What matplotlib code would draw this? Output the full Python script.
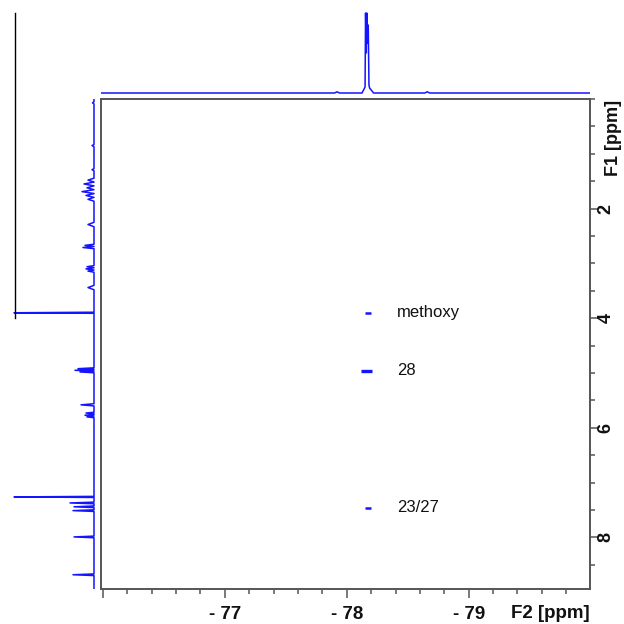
import matplotlib
matplotlib.use('Agg')
import matplotlib.pyplot as plt
from matplotlib.lines import Line2D
from matplotlib.ticker import MultipleLocator, FixedLocator

# ---------------- data ----------------
f2_major_ticks = [-76, -77, -78, -79]
f2_tick_labels = ['', '- 77', '- 78', '- 79']
f1_major_ticks = [2, 4, 6, 8]
f1_tick_labels = ['2', '4', '6', '8']

cross_labels = ['methoxy', '28', '23/27']
cross_f1 = [3.90, 4.96, 7.46]
cross_f2_lo = [-78.15, -78.12, -78.15]
cross_f2_hi = [-78.20, -78.21, -78.20]
cross_lw = [1.8, 2.4, 1.8]
label_f2 = -78.415

# top (F2) projection trace
top_ppm = [-75.984, -77.90, -77.92, -77.94, -78.125, -78.150, -78.154, -78.160,
           -78.164, -78.168, -78.176, -78.182, -78.187, -78.220, -78.64, -78.66,
           -78.68, -79.999]
top_int = [0, 0, 1.2, 0, 0, 6, 80, 40, 80, 50, 68, 8, 5, 0, 0, 1.2, 0, 0]

# left (F1) projection peaks: position (ppm), height, half width
left_ppm = [0.07, 0.85, 1.29, 1.48, 1.55, 1.62, 1.69, 1.76, 1.83,
            2.29, 2.67, 2.71, 3.06, 3.10, 3.14, 3.44, 3.90,
            4.92, 4.95, 4.98, 5.58, 5.73, 5.77, 5.80,
            7.26, 7.37, 7.44, 7.51, 7.99, 8.68]
left_int = [1.5, 2, 2, 6, 10, 7, 12, 8, 6,
            6, 9, 11, 7, 8, 6, 6, 80,
            16, 19, 14, 13, 8, 9, 7,
            80, 24, 20, 21, 20, 21]
left_hw = [0.02, 0.02, 0.02, 0.035, 0.035, 0.035, 0.035, 0.035, 0.035,
           0.04, 0.02, 0.02, 0.02, 0.02, 0.02, 0.04, 0.01,
           0.015, 0.015, 0.015, 0.02, 0.015, 0.015, 0.015,
           0.01, 0.015, 0.015, 0.015, 0.015, 0.015]

# ---------------- layout ----------------
W = H = 624
BLUE = '#1414ff'
FRAME = '#555555'
fig = plt.figure(figsize=(6.24, 6.24), dpi=100)


def box(x0, y0, x1, y1):
    return [x0 / W, 1 - y1 / H, (x1 - x0) / W, (y1 - y0) / H]


F2_LIM = (-75.984, -79.995)
F1_LIM = (8.94, 0.0)

ax = fig.add_axes(box(101, 99, 590, 589))
ax.set_xlim(*F2_LIM)
ax.set_ylim(*F1_LIM)
for s in ax.spines.values():
    s.set_color(FRAME)
    s.set_linewidth(1.4)

ax.xaxis.set_major_locator(FixedLocator(f2_major_ticks))
ax.set_xticklabels(f2_tick_labels)
ax.xaxis.set_minor_locator(MultipleLocator(0.2))
ax.yaxis.tick_right()
ax.yaxis.set_major_locator(FixedLocator(f1_major_ticks))
ax.set_yticklabels(f1_tick_labels)
ax.yaxis.set_minor_locator(MultipleLocator(0.5))
ax.tick_params(which='major', length=6.5, width=1.1, color=FRAME, direction='out')
ax.tick_params(which='minor', length=3.6, width=1.1, color=FRAME, direction='out')
ax.tick_params(axis='x', which='major', pad=6)
ax.tick_params(axis='y', which='major', pad=-1)
for t in ax.get_xticklabels():
    t.set_fontfamily('Liberation Sans')
    t.set_fontweight('bold')
    t.set_fontsize(13.5)
    t.set_color('#111111')
for t in ax.get_yticklabels():
    t.set_fontfamily('Liberation Sans')
    t.set_fontweight('bold')
    t.set_fontsize(13)
    t.set_rotation(90)
    t.set_va('center')
    t.set_color('#111111')

for lab, f1, lo, hi, lw in zip(cross_labels, cross_f1, cross_f2_lo, cross_f2_hi, cross_lw):
    ax.plot([lo, hi], [f1, f1], color=BLUE, lw=lw, solid_capstyle='butt')
    ax.text(label_f2, f1, lab, ha='left', va='center', fontsize=12,
            family=['Liberation Sans Narrow', 'Liberation Sans'], color='#111111')

# top projection
axt = fig.add_axes(box(101, 0, 590, 99))
axt.set_xlim(*F2_LIM)
axt.set_ylim(-6, 93)
axt.axis('off')
axt.plot(top_ppm, top_int, color=BLUE, lw=1.1)

# left projection
axl = fig.add_axes(box(0, 99, 101, 589))
axl.set_ylim(*F1_LIM)
axl.set_xlim(94, -7)
axl.axis('off')
ys = [F1_LIM[1]]
xs = [0]
for p, h, hw in zip(left_ppm, left_int, left_hw):
    ys += [p - hw, p, p + hw]
    xs += [0, h, 0]
ys.append(F1_LIM[0])
xs.append(0)
axl.plot(xs, ys, color=BLUE, lw=1.1)

# black projection frame line
fig.add_artist(Line2D([14.5 / W, 14.5 / W], [1 - 13 / H, 1 - 318 / H], color='black', lw=1.0))

# axis titles
fig.text(550 / W, 1 - 613 / H, 'F2 [ppm]', ha='center', va='center', fontsize=13.5,
         fontweight='bold', family='Liberation Sans', color='#111111')
fig.text(613 / W, 1 - 138 / H, 'F1 [ppm]', ha='center', va='center', fontsize=13,
         fontweight='bold', family='Liberation Sans', rotation=90, color='#111111')

fig.savefig('out.png', dpi=100, facecolor='white')
